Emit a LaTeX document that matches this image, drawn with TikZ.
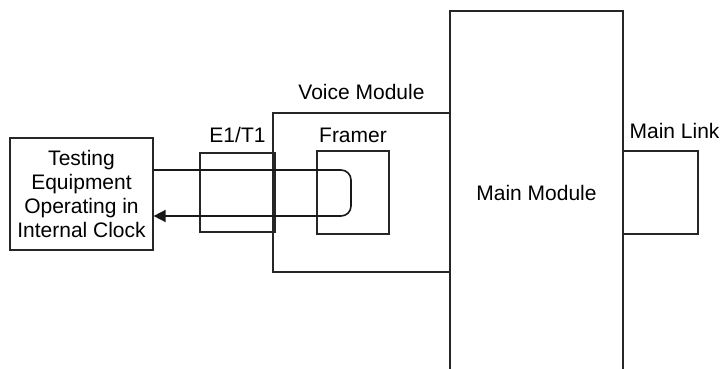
\documentclass[tikz,border=0pt]{standalone}
\usepackage{fontspec}
\setmainfont{Liberation Sans}
\usetikzlibrary{positioning}
\usetikzlibrary{arrows.meta}

\tikzset{
  box/.style={draw=black!85,line width=1.2bp,inner sep=0pt},
  lbl/.style={font=\fontsize{21bp}{23.7bp}\selectfont,inner sep=2bp},
  signal/.style={draw=black!90,line width=1.6bp,rounded corners=10bp,-{Triangle[length=12bp,width=12bp]}}
}

\begin{document}
\begin{tikzpicture}[x=1bp,y=-1bp]
\useasboundingbox (0,0) rectangle (724,368);

\node[box,minimum width=143bp,minimum height=112bp,align=center,font=\fontsize{21bp}{23.7bp}\selectfont] (test) at (81.5,194) {Testing\\Equipment\\Operating in\\Internal Clock};
\node[box,minimum width=177bp,minimum height=159bp] (voice) at (361.5,192.5) {};
\node[box,minimum width=75bp,minimum height=79bp] (e1) at (237.5,192.5) {};
\node[box,minimum width=72bp,minimum height=83bp] (framer) at (353,192.5) {};
\node[box,minimum width=173bp,minimum height=364bp,lbl,inner sep=0pt] (main) at (536.5,193) {Main Module};
\node[box,minimum width=75bp,minimum height=83bp] (link) at (660.5,192.5) {};

\node[lbl,above=11bp of voice] (voicelbl) {Voice Module};
\node[lbl,above=8bp of e1] (e1lbl) {E1/T1};
\node[lbl,above=6bp of framer] (framerlbl) {Framer};
\node[lbl,anchor=south west] (linklbl) at ([xshift=5bp,yshift=10bp]link.north west) {Main Link};

% loop back through the framer
\coordinate (loopend) at (351,216);
\draw[signal] ([yshift=24bp]test.east) -| (loopend) -- ([yshift=-22bp]test.east);

\end{tikzpicture}
\end{document}
